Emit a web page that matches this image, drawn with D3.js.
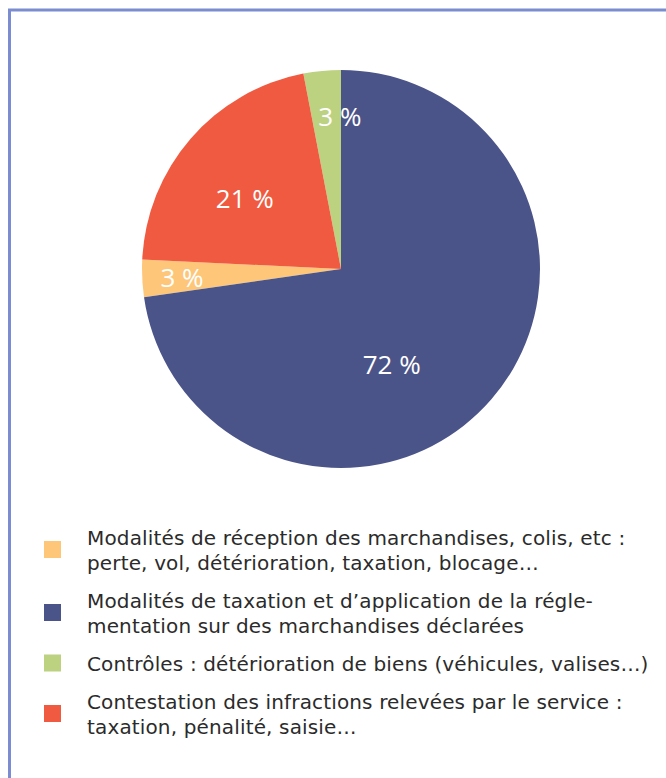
<!DOCTYPE html>
<html lang="fr">
<head>
<meta charset="utf-8">
<script src="https://cdn.jsdelivr.net/npm/d3@7"></script>
<style>
  html, body { margin: 0; padding: 0; background: #ffffff; }
  svg { display: block; }
  text { font-family: "Open Sans", "Noto Sans", sans-serif; }
  text.legend-label { font-family: "DejaVu Sans", sans-serif; letter-spacing: 0.15px; }
</style>
</head>
<body>
<svg id="chart" width="666" height="778"></svg>
<script>
// Répartition des saisines par motif
const categories = [
  ["Modalités de réception des marchandises, colis, etc :", "perte, vol, détérioration, taxation, blocage…"],
  ["Modalités de taxation et d’application de la régle-", "mentation sur des marchandises déclarées"],
  ["Contrôles : détérioration de biens (véhicules, valises…)"],
  ["Contestation des infractions relevées par le service :", "taxation, pénalité, saisie…"]
];
const shares = [3, 72, 3, 21];
const valueLabels = ["3 %", "72 %", "3 %", "21 %"];
const colors = ["#fec679", "#4b5488", "#bdd281", "#f05a40"];
// clockwise order of the slices starting at twelve o'clock
const sliceOrder = [1, 0, 3, 2];

// label placement inside each slice: fraction along the slice's angle, fraction of the radius
const labelAlong = [0.47, 0.58, 0.96, 0.44];
const labelRadius = [0.80, 0.54, 0.77, 0.60];

const W = 666, H = 778;
const svg = d3.select("#chart");

// frame (top and left edges visible)
svg.append("path")
  .attr("d", "M9.5," + (H + 10) + "V10H" + (W + 10))
  .attr("fill", "none")
  .attr("stroke", "#7b8dd0")
  .attr("stroke-width", 3);

const cx = 341, cy = 269, R = 199;
const rows = shares.map((v, i) => ({ i, v }));

const pie = d3.pie()
  .value(d => d.v)
  .sort((a, b) => sliceOrder.indexOf(a.i) - sliceOrder.indexOf(b.i));
const arc = d3.arc().innerRadius(0).outerRadius(R);
const arcs = pie(rows);

const g = svg.append("g").attr("transform", `translate(${cx},${cy})`);
g.selectAll("path.slice")
  .data(arcs)
  .join("path")
  .attr("class", "slice")
  .attr("d", arc)
  .attr("fill", d => colors[d.data.i]);

g.selectAll("text.value")
  .data(arcs)
  .join("text")
  .attr("class", "value")
  .each(function (d) {
    const i = d.data.i;
    const a = d.startAngle + (d.endAngle - d.startAngle) * labelAlong[i];
    const r = R * labelRadius[i];
    d3.select(this)
      .attr("x", Math.sin(a) * r)
      .attr("y", -Math.cos(a) * r);
  })
  .attr("text-anchor", "middle")
  .attr("dominant-baseline", "central")
  .attr("fill", "#ffffff")
  .attr("font-size", 26)
  .text(d => valueLabels[d.data.i]);

// legend
const legend = svg.append("g").attr("transform", "translate(44,0)");
let y = 545;
categories.forEach((lines, i) => {
  const item = legend.append("g");
  const firstBase = y;
  const lastBase = y + (lines.length - 1) * 25;
  const mid = (firstBase - 14 + lastBase) / 2;
  item.append("rect")
    .attr("x", 0)
    .attr("y", mid - 9.5)
    .attr("width", 17)
    .attr("height", 17)
    .attr("fill", colors[i]);
  lines.forEach((t, k) => {
    item.append("text")
      .attr("class", "legend-label")
      .attr("x", 43)
      .attr("y", firstBase + k * 25)
      .attr("fill", "#2b2b2b")
      .attr("font-size", 20)
      .text(t);
  });
  y = lastBase + 38;
});
</script>
</body>
</html>
